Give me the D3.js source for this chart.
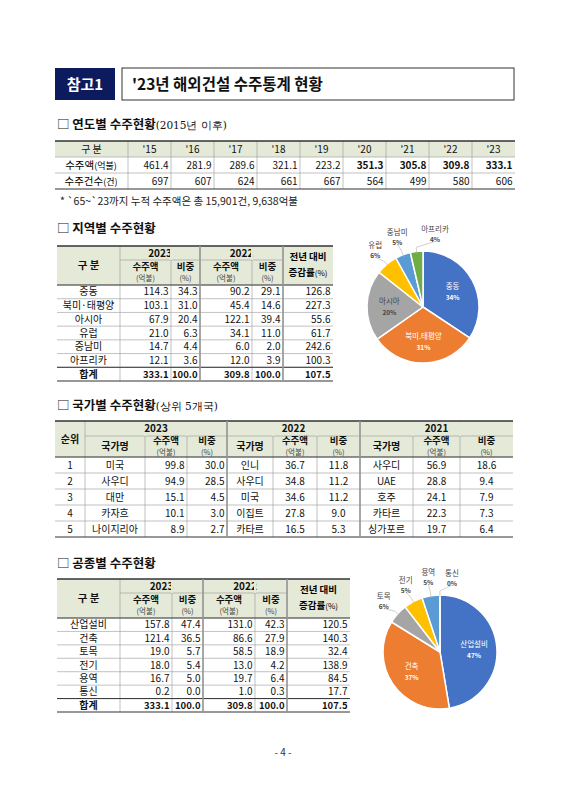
<!DOCTYPE html>
<html><head><meta charset="utf-8">
<script src="https://cdn.jsdelivr.net/npm/d3@7"></script>
<style>body{margin:0;background:#fff}svg{display:block;font-family:"Noto Sans CJK KR","Noto Sans",sans-serif}</style>
</head><body><svg width="566" height="800"></svg>
<script>
// 연도별
var years = ["'15","'16","'17","'18","'19","'20","'21","'22","'23"];
var yearAmount = [461.4,281.9,289.6,321.1,223.2,351.3,305.8,309.8,333.1];
var yearCount = [697,607,624,661,667,564,499,580,606];

// 지역별
var regions = ["중동","북미·태평양","아시아","유럽","중남미","아프리카"];
var region23 = [114.3,103.1,67.9,21.0,14.7,12.1];
var regionShare23 = [34.3,31.0,20.4,6.3,4.4,3.6];
var region22 = [90.2,45.4,122.1,34.1,6.0,12.0];
var regionShare22 = [29.1,14.6,39.4,11.0,2.0,3.9];
var regionGrowth = [126.8,227.3,55.6,61.7,242.6,100.3];
var regionTotal = [333.1,100.0,309.8,100.0,107.5];
var regionPieNames = ["중동","북미.태평양","아시아","유럽","중남미","아프리카"];
var regionPiePct = [34,31,20,6,5,4];

// 국가별
var ranks = [1,2,3,4,5];
var nation23 = ["미국","사우디","대만","카자흐","나이지리아"];
var nationAmt23 = [99.8,94.9,15.1,10.1,8.9];
var nationShare23 = [30.0,28.5,4.5,3.0,2.7];
var nation22 = ["인니","사우디","미국","이집트","카타르"];
var nationAmt22 = [36.7,34.8,34.6,27.8,16.5];
var nationShare22 = [11.8,11.2,11.2,9.0,5.3];
var nation21 = ["사우디","UAE","호주","카타르","싱가포르"];
var nationAmt21 = [56.9,28.8,24.1,22.3,19.7];
var nationShare21 = [18.6,9.4,7.9,7.3,6.4];

// 공종별
var works = ["산업설비","건축","토목","전기","용역","통신"];
var work23 = [157.8,121.4,19.0,18.0,16.7,0.2];
var workShare23 = [47.4,36.5,5.7,5.4,5.0,0.0];
var work22 = [131.0,86.6,58.5,13.0,19.7,1.0];
var workShare22 = [42.3,27.9,18.9,4.2,6.4,0.3];
var workGrowth = [120.5,140.3,32.4,138.9,84.5,17.7];
var workTotal = [333.1,100.0,309.8,100.0,107.5];
var workPieNames = ["산업설비","건축","토목","전기","용역","통신"];
var workPiePct = [47,37,6,5,5,0];

var pieColors = ["#4472c4","#ed7d31","#a5a5a5","#ffc000","#5b9bd5","#70ad47"];
var headBg = "#e4e9d8";

var svg = d3.select("svg");

function f1(v){ return d3.format(".1f")(v); }

function cell(g, x0, x1, y0, y1, text, o) {
    o = o || {};
    if (o.bg) g.append("rect").attr("x",x0).attr("y",y0).attr("width",x1-x0).attr("height",y1-y0).attr("fill",o.bg);
    if (text === undefined || text === null) return;
    var lines = String(text).split("\n");
    var fs = o.size || 10;
    var anchor = o.align || "middle";
    var tx = anchor == "end" ? x1 - 2.5 : anchor == "start" ? x0 + 3 : (x0+x1)/2;
    var my = (y0+y1)/2;
    var h = y1 - y0;
    lines.forEach(function(l, i) {
        var small = i > 0 && o.sub;
        var off = Math.min(6, h*0.27);
        var dy = lines.length == 1 ? 0 : (i == 0 ? -off : off);
        g.append("text").attr("x",tx).attr("y",my+dy).attr("dy","0.36em")
            .attr("text-anchor",anchor)
            .attr("font-size", small ? 7.5 : (lines.length > 1 ? Math.min(fs, 9.5) : fs))
            .attr("font-weight", small ? "normal" : (o.bold ? "bold" : "normal"))
            .attr("fill", small ? "#444" : "#111")
            .text(l);
    });
}

function grid(g, xs, ys) {
    xs.slice(1,-1).forEach(function(x){
        g.append("line").attr("x1",x).attr("x2",x).attr("y1",ys[0]).attr("y2",ys[ys.length-1]).attr("stroke","#999").attr("stroke-width",0.6);
    });
    ys.slice(1,-1).forEach(function(y){
        g.append("line").attr("x1",xs[0]).attr("x2",xs[xs.length-1]).attr("y1",y).attr("y2",y).attr("stroke","#999").attr("stroke-width",0.6);
    });
    g.append("line").attr("x1",xs[0]).attr("x2",xs[xs.length-1]).attr("y1",ys[0]).attr("y2",ys[0]).attr("stroke","#333").attr("stroke-width",1.6);
    g.append("line").attr("x1",xs[0]).attr("x2",xs[xs.length-1]).attr("y1",ys[ys.length-1]).attr("y2",ys[ys.length-1]).attr("stroke","#333").attr("stroke-width",1.2);
}

function section(y, bold, rest) {
    var t = svg.append("text").attr("x",57).attr("y",y).attr("font-size",12.5).attr("fill","#111");
    t.append("tspan").text("□ ").attr("font-weight","normal");
    t.append("tspan").text(bold).attr("font-weight","bold");
    if (rest) t.append("tspan").text(rest).attr("font-family","'DejaVu Serif',serif").attr("font-size",10.5);
}

// Title
svg.append("rect").attr("x",55).attr("y",68).attr("width",60).attr("height",32).attr("fill","#0c1a5e");
svg.append("text").attr("x",85).attr("y",90).attr("text-anchor","middle").attr("fill","#fff").attr("font-size",15).attr("font-weight","bold").text("참고1");
svg.append("rect").attr("x",122).attr("y",68).attr("width",392).attr("height",32).attr("fill","#fff").attr("stroke","#333").attr("stroke-width",1);
svg.append("text").attr("x",132).attr("y",90).attr("fill","#111").attr("font-size",15.5).attr("font-weight","bold").text("'23년 해외건설 수주통계 현황");

// Table 1
section(129, "연도별 수주현황", "(2015년 이후)");
(function(){
    var g = svg.append("g");
    var yx = d3.scaleBand().domain(years).range([128,515]);
    var xs = [55].concat(years.map(function(d){return yx(d);})).concat([515]);
    var ry = d3.scaleBand().domain([0,1,2]).range([141,189]);
    var ys = [0,1,2].map(function(i){return ry(i);}).concat([189]);
    cell(g,55,515,ys[0],ys[1],null,{bg:headBg});
    cell(g,55,128,ys[0],ys[1],"구   분");
    years.forEach(function(y,i){
        cell(g,yx(y),yx(y)+yx.bandwidth(),ys[0],ys[1],y);
        cell(g,yx(y),yx(y)+yx.bandwidth(),ys[1],ys[2],f1(yearAmount[i]),{align:"end",bold:i>=5});
        cell(g,yx(y),yx(y)+yx.bandwidth(),ys[2],ys[3],yearCount[i],{align:"end"});
    });
    var t1 = g.append("text").attr("x",91).attr("y",(ys[1]+ys[2])/2).attr("dy","0.36em").attr("text-anchor","middle").attr("font-size",10.5);
    t1.append("tspan").text("수주액"); t1.append("tspan").attr("font-size",9).text("(억불)");
    var t2 = g.append("text").attr("x",91).attr("y",(ys[2]+ys[3])/2).attr("dy","0.36em").attr("text-anchor","middle").attr("font-size",10.5);
    t2.append("tspan").text("수주건수"); t2.append("tspan").attr("font-size",9).text("(건)");
    grid(g, xs, ys);
})();
svg.append("text").attr("x",60).attr("y",205).attr("font-size",10.5).attr("fill","#222").text("* `65~`23까지 누적 수주액은 총 15,901건, 9,638억불");

// generic 2-year table (region / work)
function yearTable(top, xs, names, a23, s23, a22, s22, gr, total, bottom) {
    var g = svg.append("g");
    var h1 = top + 14, h2 = top + 39;
    var ry = d3.scaleBand().domain(d3.range(names.length+1)).range([h2,bottom]);
    cell(g,xs[0],xs[6],top,h2,null,{bg:headBg});
    cell(g,xs[0],xs[1],top,h2,"구   분",{bold:true,size:10.5});
    cell(g,xs[1],xs[3],top,h1,"2023",{bold:true});
    cell(g,xs[3],xs[5],top,h1,"2022",{bold:true});
    var gt = g.append("g");
    gt.append("text").attr("x",(xs[5]+xs[6])/2).attr("y",top+14).attr("text-anchor","middle").attr("font-size",9.5).attr("font-weight","bold").text("전년 대비");
    var t2 = gt.append("text").attr("x",(xs[5]+xs[6])/2).attr("y",top+30).attr("text-anchor","middle").attr("font-size",9.5).attr("font-weight","bold");
    t2.append("tspan").text("증감률"); t2.append("tspan").attr("font-weight","normal").attr("font-size",8).text("(%)");
    [1,3].forEach(function(c){
        cell(g,xs[c],xs[c+1],h1,h2,"수주액\n(억불)",{bold:true,sub:true});
        cell(g,xs[c+1],xs[c+2],h1,h2,"비중\n(%)",{bold:true,sub:true});
    });
    names.forEach(function(n,i){
        var y0 = ry(i), y1 = y0 + ry.bandwidth();
        cell(g,xs[0],xs[1],y0,y1,n);
        [a23[i],s23[i],a22[i],s22[i],gr[i]].forEach(function(v,j){
            cell(g,xs[j+1],xs[j+2],y0,y1,f1(v),{align:"end"});
        });
    });
    var n = names.length, y0 = ry(n), y1 = bottom;
    cell(g,xs[0],xs[1],y0,y1,"합계",{bold:true});
    total.forEach(function(v,j){ cell(g,xs[j+1],xs[j+2],y0,y1,f1(v),{align:"end",bold:true,size:9.5}); });
    var rowYs = [top].concat(d3.range(n+1).map(function(i){return ry(i);})).concat([bottom]);
    grid(g, xs, rowYs);
    g.append("line").attr("x1",xs[1]).attr("x2",xs[5]).attr("y1",h1).attr("y2",h1).attr("stroke","#999").attr("stroke-width",0.6);
    g.append("line").attr("x1",xs[0]).attr("x2",xs[6]).attr("y1",h2).attr("y2",h2).attr("stroke","#333").attr("stroke-width",0.9);
    g.append("line").attr("x1",xs[0]).attr("x2",xs[6]).attr("y1",ry(n)).attr("y2",ry(n)).attr("stroke","#333").attr("stroke-width",1);
    // year header spans two columns
    [2,4].forEach(function(j){
        g.append("rect").attr("x",xs[j]-1).attr("y",top+1).attr("width",2).attr("height",h1-top-1).attr("fill",headBg);
    });
    [3,5].forEach(function(j){
        g.append("line").attr("x1",xs[j]).attr("x2",xs[j]).attr("y1",top).attr("y2",bottom).attr("stroke","#999").attr("stroke-width",1.6);
    });
    gt.raise();
    return g;
}

function pieChart(cx, cy, r, vals, names, pct) {
    var g = svg.append("g").attr("transform","translate("+cx+","+cy+")");
    var arcs = d3.pie().sort(null)(vals);
    var arc = d3.arc().innerRadius(0).outerRadius(r);
    g.selectAll("path").data(arcs).join("path").attr("d",arc)
        .attr("fill",function(d,i){return pieColors[i];}).attr("stroke","#fff").attr("stroke-width",1.5);
    var outer = [];
    arcs.forEach(function(d,i){
        var a = (d.startAngle+d.endAngle)/2;
        var inside = pct[i] >= 15;
        if (inside) {
            var x = Math.sin(a)*r*0.6, y = -Math.cos(a)*r*0.6;
            var col = i==2 ? "#444" : "#fff";
            g.append("text").attr("x",x).attr("y",y-2).attr("text-anchor","middle").attr("font-size",7.5).attr("fill",col).text(names[i]);
            g.append("text").attr("x",x).attr("y",y+9).attr("text-anchor","middle").attr("font-size",6.5).attr("font-weight","bold").attr("fill",col).text(pct[i]+"%");
        } else {
            outer.push({i:i, a:a, x:Math.sin(a)*(r+16), y:-Math.cos(a)*(r+14)});
        }
    });
    // spread outer labels so they do not collide
    outer.sort(function(p,q){return p.x-q.x;});
    var last = outer[outer.length-1];
    if (last.x < 12) last.x = 12;
    for (var k = outer.length-2; k >= 0; k--) {
        if (outer[k].x > outer[k+1].x - 22) outer[k].x = outer[k+1].x - 22;
        outer[k].y = Math.min(outer[k].y, -Math.sqrt(Math.max(0,(r+16)*(r+16)-outer[k].x*outer[k].x)));
    }
    outer.forEach(function(o){
        var ex = Math.sin(o.a)*(r+4), ey = -Math.cos(o.a)*(r+4);
        g.append("polyline").attr("points",[[Math.sin(o.a)*(r-2),-Math.cos(o.a)*(r-2)],[ex,ey],[o.x,o.y+4]].join(" "))
            .attr("fill","none").attr("stroke","#bbb").attr("stroke-width",0.7);
        g.append("text").attr("x",o.x).attr("y",o.y-5).attr("text-anchor","middle").attr("font-size",7.5).attr("fill","#444").text(names[o.i]);
        g.append("text").attr("x",o.x).attr("y",o.y+5).attr("text-anchor","middle").attr("font-size",6.5).attr("font-weight","bold").attr("fill","#444").text(pct[o.i]+"%");
    });
}

// Table 2 + pie
section(233, "지역별 수주현황");
yearTable(246,[57,120,171,200,252,283,333],regions,region23,regionShare23,region22,regionShare22,regionGrowth,regionTotal,381);
pieChart(423,307,56,region23,regionPieNames,regionPiePct);

// Table 3
section(410, "국가별 수주현황", "(상위 5개국)");
(function(){
    var g = svg.append("g");
    var xs = [55,85,145,187,227,273,317,360,413,460,513];
    var top = 421, h1 = 436, h2 = 457, bottom = 537;
    var ry = d3.scaleBand().domain(ranks).range([h2,bottom]);
    cell(g,xs[0],xs[10],top,h2,null,{bg:headBg});
    cell(g,xs[0],xs[1],top,h2,"순위",{bold:true});
    ["2023","2022","2021"].forEach(function(y,k){
        var c = 1 + k*3;
        cell(g,xs[c],xs[c+3],top,h1,y,{bold:true});
        cell(g,xs[c],xs[c+1],h1,h2,"국가명",{bold:true});
        cell(g,xs[c+1],xs[c+2],h1,h2,"수주액\n(억불)",{bold:true,sub:true});
        cell(g,xs[c+2],xs[c+3],h1,h2,"비중\n(%)",{bold:true,sub:true});
    });
    var sets = [[nation23,nationAmt23,nationShare23],[nation22,nationAmt22,nationShare22],[nation21,nationAmt21,nationShare21]];
    ranks.forEach(function(rk,i){
        var y0 = ry(rk), y1 = y0 + ry.bandwidth();
        cell(g,xs[0],xs[1],y0,y1,rk);
        sets.forEach(function(s,k){
            var c = 1 + k*3;
            cell(g,xs[c],xs[c+1],y0,y1,s[0][i]);
            cell(g,xs[c+1],xs[c+2],y0,y1,f1(s[1][i]),{align:k==0?"end":"middle"});
            cell(g,xs[c+2],xs[c+3],y0,y1,f1(s[2][i]),{align:k==0?"end":"middle"});
        });
    });
    var ys = [top,h2].concat(ranks.slice(1).map(function(r){return ry(r);})).concat([bottom]);
    grid(g, xs, ys);
    g.append("line").attr("x1",xs[1]).attr("x2",xs[10]).attr("y1",h1).attr("y2",h1).attr("stroke","#999").attr("stroke-width",0.6);
    g.append("line").attr("x1",xs[0]).attr("x2",xs[10]).attr("y1",h2).attr("y2",h2).attr("stroke","#333").attr("stroke-width",0.9);
    [1,4,7].forEach(function(c){
        [c+1,c+2].forEach(function(j){
            g.append("rect").attr("x",xs[j]-1).attr("y",top+1).attr("width",2).attr("height",h1-top-1).attr("fill",headBg);
        });
    });
    g.selectAll("text").raise();
    [4,7].forEach(function(c){
        g.append("line").attr("x1",xs[c]).attr("x2",xs[c]).attr("y1",top).attr("y2",bottom).attr("stroke","#999").attr("stroke-width",1.6);
    });
})();

// Table 4 + pie
section(568, "공종별 수주현황");
yearTable(579,[57,120,172,203,255,287,350],works,work23,workShare23,work22,workShare22,workGrowth,workTotal,712);
pieChart(440,652,57,work23,workPieNames,workPiePct);

svg.append("text").attr("x",283).attr("y",756).attr("text-anchor","middle").attr("font-size",10).attr("fill","#333").text("- 4 -");
</script></body></html>
